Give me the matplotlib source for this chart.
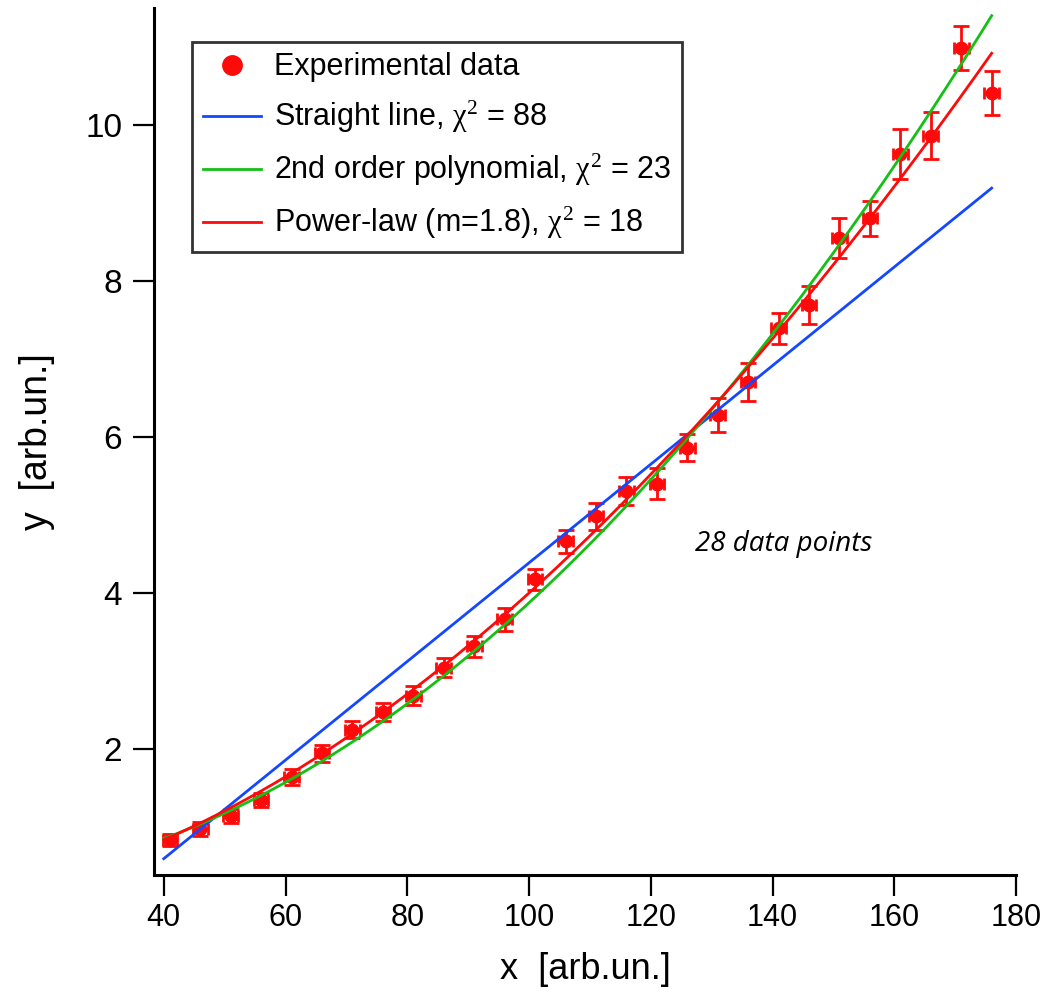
import numpy as np
import matplotlib
matplotlib.use('Agg')
import matplotlib.pyplot as plt
from matplotlib.lines import Line2D

# data
x_data = [41, 46, 51, 56, 61, 66, 71, 76, 81, 86, 91, 96, 101, 106,
          111, 116, 121, 126, 131, 136, 141, 146, 151, 156, 161, 166, 171, 176]
y_data = [0.83, 0.97, 1.14, 1.34, 1.64, 1.94, 2.24, 2.47, 2.68, 3.04, 3.31, 3.66, 4.17, 4.66,
          4.98, 5.30, 5.40, 5.86, 6.28, 6.70, 7.39, 7.69, 8.55, 8.80, 9.63, 9.86, 10.99, 10.41]
y_err = [0.08, 0.09, 0.09, 0.09, 0.10, 0.11, 0.11, 0.11, 0.12, 0.12, 0.14, 0.15, 0.14, 0.15,
         0.17, 0.18, 0.20, 0.17, 0.22, 0.24, 0.20, 0.25, 0.26, 0.23, 0.32, 0.30, 0.28, 0.28]
x_err = 1.2

# fit parameters (estimated from the drawn curves)
line_coef = [-1.941, 0.06324]          # a + b*x
poly_coef = [0.262, 0.00028, 0.000358]  # a + b*x + c*x^2
pow_coef = [0.077, 0.0009844]          # a + b*x^m
pow_m = 1.8

labels = ['Experimental data',
          r'Straight line, $\chi^{2}$ = 88',
          r'2nd order polynomial, $\chi^{2}$ = 23',
          r'Power-law (m=1.8), $\chi^{2}$ = 18']

blue = '#1448FF'
green = '#14C014'
red = '#FF0A0A'

plt.rcParams['font.family'] = ['Liberation Sans', 'DejaVu Sans']
plt.rcParams['mathtext.fontset'] = 'custom'
plt.rcParams['mathtext.rm'] = 'Liberation Serif'
plt.rcParams['mathtext.it'] = 'Liberation Serif'

fig = plt.figure(figsize=(10.52, 9.92), dpi=100)
ax = fig.add_axes([0.1464, 0.118, 0.8194, 0.874])

xs = np.linspace(40, 176, 300)
x = np.array(x_data)
y = np.array(y_data)

ax.errorbar(x, y, yerr=y_err, fmt='none', ecolor=red, elinewidth=2,
            capsize=6, capthick=2, zorder=2)
ax.errorbar(x, y, xerr=x_err, fmt='none', ecolor=red, elinewidth=2,
            capsize=4.5, capthick=2, zorder=2)
ax.plot(x, y, 'o', color=red, markersize=9, zorder=3)

ax.plot(xs, line_coef[0] + line_coef[1] * xs, color=blue, lw=2, zorder=4)
ax.plot(xs, poly_coef[0] + poly_coef[1] * xs + poly_coef[2] * xs ** 2, color=green, lw=2, zorder=4)
ax.plot(xs, pow_coef[0] + pow_coef[1] * xs ** pow_m, color=red, lw=2, zorder=5)

ax.set_xlim(38.4, 180)
ax.set_ylim(0.38, 11.5)
ax.set_xticks([40, 60, 80, 100, 120, 140, 160, 180])
ax.set_yticks([2, 4, 6, 8, 10])

for s in ['top', 'right']:
    ax.spines[s].set_visible(False)
for s in ['left', 'bottom']:
    ax.spines[s].set_linewidth(2.2)

ax.tick_params(direction='out', length=15, width=1.6, labelsize=24)
ax.tick_params(axis='x', labelsize=22, pad=5)
ax.tick_params(axis='y', pad=8)

ax.set_xlabel('x  [arb.un.]', fontsize=26, labelpad=14)
ax.set_ylabel('y  [arb.un.]', fontsize=27, labelpad=22)

ax.text(0.730, 0.3815, '28 data points', transform=ax.transAxes, fontsize=20,
        style='italic', family='Open Sans', ha='center', va='center')

handles = [Line2D([], [], ls='none', marker='o', color=red, markersize=14),
           Line2D([], [], color=blue, lw=2),
           Line2D([], [], color=green, lw=2),
           Line2D([], [], color=red, lw=2)]
leg = ax.legend(handles, labels, loc='upper left', bbox_to_anchor=(0.044, 0.961),
                borderaxespad=0, fontsize=22, frameon=True, fancybox=False,
                handlelength=1.9, handletextpad=0.45, labelspacing=0.55,
                borderpad=0.35)
leg.get_frame().set_edgecolor('black')
leg.get_frame().set_linewidth(2)

fig.savefig('out.png', dpi=100)
